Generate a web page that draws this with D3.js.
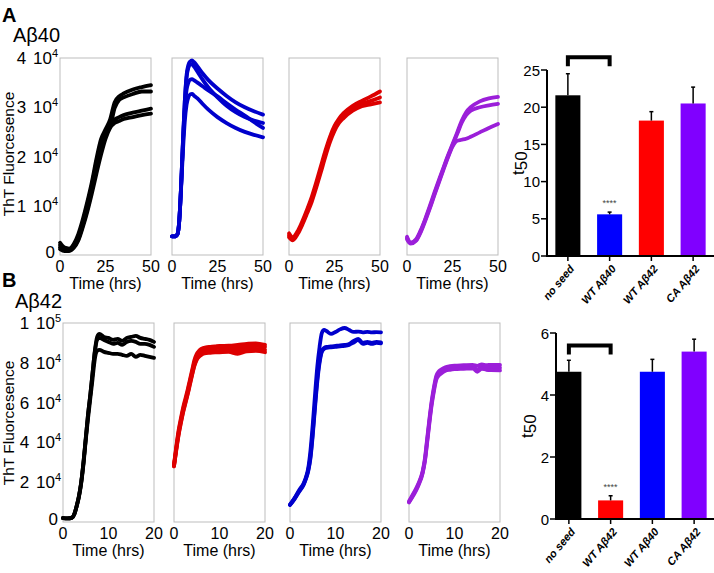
<!DOCTYPE html>
<html><head><meta charset="utf-8">
<script src="https://cdn.jsdelivr.net/npm/d3@7"></script>
<style>body{margin:0;background:#fff} svg{display:block} text{font-family:"Liberation Sans",Arial,sans-serif}</style>
</head><body><svg id="c" width="714" height="573"></svg>
<script>
// ---------- DATA ----------
// Row A (Aβ40 monomer), time in hours, ThT fluorescence
const timesA1 = [0,2.5,5,7.5,10,12.5,15,17.5,20,22.5,25,27.5,30,32.5,35,40,45,50];
const a1 = [
 [2500,1500,1300,2200,4200,7200,10800,14800,19500,23500,25500,27500,31000,32200,32800,33600,34100,34500],
 [2000,1300,1100,1900,3700,6600,10200,14200,18800,22800,25000,26000,29800,31500,32000,32700,33200,33200],
 [1600,1000,900,1600,3200,6000,9300,13200,17300,21200,24200,26300,27500,28000,28400,28900,29300,29700],
 [1200,800,800,1400,2900,5600,8800,12500,16500,20300,23600,25800,26800,27200,27600,28000,28400,28700]
];
const timesA2 = [0,2,3,4,5,6,7,8,9,10,11,12,14,17,20,25,30,35,40,45,50];
const a2 = [
 [3800,3800,4200,7000,14000,23000,31000,36500,38600,39300,39500,39200,38300,36800,35500,33800,32300,31000,30000,29200,28500],
 [3800,3800,4200,7000,14000,23000,31000,36000,38000,38700,38700,38300,37200,35500,34000,32000,30300,29000,28000,27300,26800],
 [3800,3800,4200,7000,14000,22500,29500,33500,35000,35600,35700,35500,35000,34200,33400,32200,30800,29500,28300,27000,25800],
 [3800,3800,4200,7000,13500,21000,27000,30500,32000,32600,32700,32400,31800,30600,29500,28000,26800,25800,25000,24400,23900]
];
const timesA3 = [0,2,5,7.5,10,12.5,15,17.5,20,22.5,25,27.5,30,35,40,45,50];
const a3 = [
 [4400,3600,5000,7000,9300,11800,14800,18000,21200,24000,26200,27700,28800,30300,31300,32200,33200],
 [4000,3300,4700,6600,8900,11300,14200,17400,20600,23500,25700,27200,28300,29800,30700,31300,32000],
 [3600,3000,4400,6300,8500,10800,13700,16800,20000,22900,25200,26800,27800,29300,30200,30600,31000]
];
const timesA4 = [0,2,5,7.5,10,12.5,15,17.5,20,22.5,25,27.5,30,32.5,35,40,45,50];
const a4 = [
 [3700,2500,3200,5000,7300,9900,12600,15200,17700,20200,22500,24800,27200,29000,30000,31200,31800,32100],
 [3400,2400,3000,4800,7100,9600,12300,14900,17500,20000,22300,24500,26800,28400,29300,30000,30400,30700],
 [3200,2300,2900,4600,6900,9400,12100,14700,17300,19800,22000,23200,23400,23600,24000,24900,25800,26600]
];
// Row B (Aβ42 monomer)
const timesB1 = [0,1,2,2.5,3,3.5,4,4.5,5,5.5,6,6.5,7,7.5,8,9,10,11,12,13,14,15,16,17,18,19,20];
const b1 = [
 [2000,1800,2200,4000,8000,13000,20000,30000,42000,54000,64000,75000,86000,93000,94500,93000,92500,91500,92000,91000,92500,93000,93500,92500,92000,91500,90500],
 [2000,1800,2200,4000,8000,13000,20000,30000,42000,54000,64000,75000,85500,91500,92500,91500,90500,89500,90000,89000,90500,91000,90500,89500,89500,89000,88000],
 [2000,1800,2200,4000,7800,12500,19500,29000,41000,52000,62000,72000,82000,86000,86500,85500,85000,84500,84500,84000,83500,84500,83000,84000,83500,83000,82500]
];
const timesB2 = [0,0.5,1,1.5,2,2.5,3,3.5,4,4.5,5,5.5,6,7,8,9,10,12,14,16,18,20];
const b2 = [
 [29000,38000,46000,52000,57500,62000,66500,71500,76500,81500,84500,86000,87000,87800,88000,88200,88500,88600,89000,89500,89800,89000],
 [28500,37000,45000,51000,56500,61000,65500,70500,75500,80500,83500,85000,86000,86800,87000,87300,87500,87000,87800,88000,88500,88000],
 [28000,36500,44000,50000,55500,60000,64500,69500,74500,79000,82000,83500,84500,85300,85500,85800,86000,86200,86000,86800,87000,86500],
 [28000,36000,43500,49500,55000,59500,64000,69000,74000,78500,81500,83000,84000,84800,85000,85200,85300,85500,84500,85800,86000,85300]
];
const timesB3 = [0,1,2,3,3.5,4,4.5,5,5.5,6,6.5,7,7.5,8,9,10,11,12,13,14,15,16,17,18,19,20];
const b3 = [
 [8700,12000,16000,19500,22500,27000,36000,49000,64000,78000,88000,95000,96500,96000,94500,95500,96800,97500,96500,95500,95700,95300,95500,95300,95400,95300],
 [8700,11800,15500,19000,22000,26000,33000,45000,59000,72000,81000,86000,87500,88000,88200,88500,88800,89000,89500,91000,92000,90000,90500,90000,90500,90300],
 [8500,11500,15200,18700,21700,25500,32000,43500,57500,70500,80000,85500,87000,87500,87800,88000,88300,88500,89000,90200,91500,89500,90000,89500,90000,89800]
];
const timesB4 = [0,1,2,3,3.5,4,4.5,5,5.5,6,6.5,7,8,9,10,12,14,15,16,17,18,20];
const b4 = [
 [10500,14500,19000,25500,32000,42000,52000,61000,68000,73500,75500,76500,77800,78300,78600,78800,79000,78500,79200,78800,79000,78900],
 [10000,14000,18500,25000,31000,41000,51000,60000,67000,72500,74500,75500,77000,77500,77800,78000,78200,76500,78000,77500,77800,77500],
 [9800,13500,18000,24500,30500,40000,50000,59000,66000,71500,73500,74500,76000,76500,76800,77000,77200,75500,77000,76500,76300,76200]
];
const lineColorsA = ["#000000","#0000cc","#dd0000","#9b1fd9"];
const lineColorsB = ["#000000","#dd0000","#0000cc","#9b1fd9"];

const xTicksA = [0,25,50];
const yTicksA = [0,10000,20000,30000,40000];
const xTicksB = [0,10,20];
const yTicksB = [0,20000,40000,60000,80000,100000];

// t50 bar charts
const catsA = ["no seed","WT Aβ40","WT Aβ42","CA Aβ42"];
const t50A = [21.6,5.6,18.2,20.5];
const errA = [2.9,0.3,1.2,2.2];
const barColorsA = ["#000000","#0000ff","#ff0000","#8000ff"];
const barTicksA = [0,5,10,15,20,25];

const catsB = ["no seed","WT Aβ42","WT Aβ40","CA Aβ42"];
const t50B = [4.75,0.6,4.75,5.4];
const errB = [0.37,0.15,0.4,0.4];
const barColorsB = ["#000000","#ff0000","#0000ff","#8000ff"];
const barTicksB = [0,2,4,6];

// ---------- DRAW ----------
const svg = d3.select("#c");

function supLabel(sel, v) {
  if (v === 0) { sel.text("0"); return; }
  const e = Math.floor(Math.log10(v) + 1e-9);
  const m = Math.round(v / Math.pow(10, e));
  sel.append("tspan").text(m + " ");
  sel.append("tspan").attr("dx", 2).text("10");
  sel.append("tspan").attr("dy", -7).attr("font-size", 11).text(e);
}

function linePanel(opt) {
  const g = svg.append("g");
  const x = d3.scaleLinear().domain(opt.xDomain).range([opt.left, opt.left + opt.width]);
  const y = d3.scaleLinear().domain(opt.yDomain).range([opt.bottom, opt.top]);
  g.append("rect").attr("x", opt.left).attr("y", opt.top)
    .attr("width", opt.width).attr("height", opt.bottom - opt.top)
    .attr("fill", "none").attr("stroke", "#bdbdbd").attr("stroke-width", 1);
  const line = d3.line().x((d, i) => x(opt.times[i])).y(d => y(d)).curve(d3.curveMonotoneX);
  opt.reps.forEach(r => {
    g.append("path").attr("d", line(r)).attr("fill", "none")
      .attr("stroke", opt.color).attr("stroke-width", 3.8)
      .attr("stroke-linejoin", "round").attr("stroke-linecap", "round");
  });
  g.selectAll(".xt").data(opt.xTicks).enter().append("text")
    .attr("x", d => x(d)).attr("y", opt.bottom + 17).attr("text-anchor", "middle")
    .attr("font-size", 16).text(d => d);
  g.append("text").attr("x", opt.left + opt.width / 2).attr("y", opt.bottom + 34)
    .attr("text-anchor", "middle").attr("font-size", 16).text("Time (hrs)");
  if (opt.yLabels) {
    g.selectAll(".yt").data(opt.yTicks).enter().append("text")
      .attr("x", d => d === 0 ? opt.left - 5 : opt.left - 2)
      .attr("y", d => d === 0 ? y(d) + 3 : y(d) + 6).attr("text-anchor", "end")
      .attr("font-size", 17).each(function (d) { supLabel(d3.select(this), d); });
  }
}

function rowLines(rowOpt) {
  rowOpt.lefts.forEach((l, i) => {
    linePanel({
      left: l, width: 91, top: rowOpt.top, bottom: rowOpt.bottom,
      xDomain: rowOpt.xDomain, yDomain: rowOpt.yDomain,
      xTicks: rowOpt.xTicks, yTicks: rowOpt.yTicks, yLabels: i === 0,
      times: rowOpt.times[i], reps: rowOpt.reps[i], color: rowOpt.colors[i]
    });
  });
}

rowLines({ lefts: [60, 172, 289, 407], top: 58, bottom: 255, xDomain: [0, 50], yDomain: [0, 40000],
  xTicks: xTicksA, yTicks: yTicksA, times: [timesA1, timesA2, timesA3, timesA4],
  reps: [a1, a2, a3, a4], colors: lineColorsA });
rowLines({ lefts: [63, 174, 290, 409], top: 323, bottom: 522, xDomain: [0, 20], yDomain: [0, 100000],
  xTicks: xTicksB, yTicks: yTicksB, times: [timesB1, timesB2, timesB3, timesB4],
  reps: [b1, b2, b3, b4], colors: lineColorsB });

function barChart(o) {
  const g = svg.append("g");
  const y = d3.scaleLinear().domain([0, o.max]).range([o.y0, o.y1]);
  const x = d3.scaleBand().domain(o.cats).range(o.band).paddingInner(0.4).paddingOuter(0.2);
  const bw = x.bandwidth();
  o.cats.forEach((c, i) => {
    const cx = x(c) + bw / 2;
    g.append("rect").attr("x", x(c)).attr("y", y(o.vals[i])).attr("width", bw)
      .attr("height", y(0) - y(o.vals[i])).attr("fill", o.colors[i]);
    g.append("line").attr("x1", cx).attr("x2", cx).attr("y1", y(o.vals[i]))
      .attr("y2", y(o.vals[i] + o.errs[i])).attr("stroke", "#000").attr("stroke-width", 1.5);
    g.append("line").attr("x1", cx - 2).attr("x2", cx + 2).attr("y1", y(o.vals[i] + o.errs[i]))
      .attr("y2", y(o.vals[i] + o.errs[i])).attr("stroke", "#000").attr("stroke-width", 1.5);
    g.append("line").attr("x1", cx).attr("x2", cx).attr("y1", y(0)).attr("y2", y(0) + 5)
      .attr("stroke", "#000").attr("stroke-width", 1.5);
    g.append("text").attr("transform", `translate(${cx + 7},${y(0) + 13}) rotate(-50)`)
      .attr("text-anchor", "end").attr("font-size", 11).attr("font-weight", "bold")
      .attr("font-style", "italic").text(c);
  });
  // axes
  g.append("line").attr("x1", o.axisX).attr("x2", o.axisX).attr("y1", y(0)).attr("y2", y(o.max))
    .attr("stroke", "#000").attr("stroke-width", 2);
  g.append("line").attr("x1", o.axisX - 1).attr("x2", 714).attr("y1", y(0)).attr("y2", y(0))
    .attr("stroke", "#000").attr("stroke-width", 2);
  o.ticks.forEach(t => {
    g.append("line").attr("x1", o.axisX - 6).attr("x2", o.axisX).attr("y1", y(t)).attr("y2", y(t))
      .attr("stroke", "#000").attr("stroke-width", 1.5);
    g.append("text").attr("x", o.axisX - 7).attr("y", y(t) + 5.5).attr("text-anchor", "end")
      .attr("font-size", 15).text(t);
  });
  // y label t50
  const lab = g.append("text").attr("transform", `translate(${o.axisX - 23},${(y(0) + y(o.max)) / 2 + 12}) rotate(-90)`)
    .attr("font-size", 17);
  lab.append("tspan").text("t");
  lab.append("tspan").attr("dy", 3).text("50");
  // bracket
  const bx1 = x(o.cats[0]) + bw / 2, bx2 = x(o.cats[1]) + bw / 2;
  const by = y(o.bracketY);
  g.append("path").attr("d", `M${bx1},${by + 9}V${by}H${bx2}V${by + 9}`)
    .attr("fill", "none").attr("stroke", "#000").attr("stroke-width", 4);
  // stars
  g.append("text").attr("x", bx2).attr("y", y(o.vals[1] + o.errs[1]) - 6)
    .attr("text-anchor", "middle").attr("font-size", 9).attr("fill", "#444").text("****");
}

barChart({ cats: catsA, vals: t50A, errs: errA, colors: barColorsA, ticks: barTicksA,
  max: 25, y0: 256, y1: 70, axisX: 547, band: [547, 714], bracketY: 26.7 });
barChart({ cats: catsB, vals: t50B, errs: errB, colors: barColorsB, ticks: barTicksB,
  max: 6, y0: 519, y1: 333, axisX: 556, band: [548, 715], bracketY: 5.6 });

// panel letters and titles
svg.append("text").attr("x", 2).attr("y", 22).attr("font-size", 20).attr("font-weight", "bold").text("A");
svg.append("text").attr("x", 13).attr("y", 42).attr("font-size", 20).text("Aβ40");
svg.append("text").attr("x", 2).attr("y", 287).attr("font-size", 20).attr("font-weight", "bold").text("B");
svg.append("text").attr("x", 15).attr("y", 308).attr("font-size", 20).text("Aβ42");
svg.append("text").attr("transform", "translate(14,154) rotate(-90)").attr("text-anchor", "middle")
  .attr("font-size", 15.5).text("ThT Fluorcesence");
svg.append("text").attr("transform", "translate(14,423) rotate(-90)").attr("text-anchor", "middle")
  .attr("font-size", 15.5).text("ThT Fluorcesence");
</script></body></html>
